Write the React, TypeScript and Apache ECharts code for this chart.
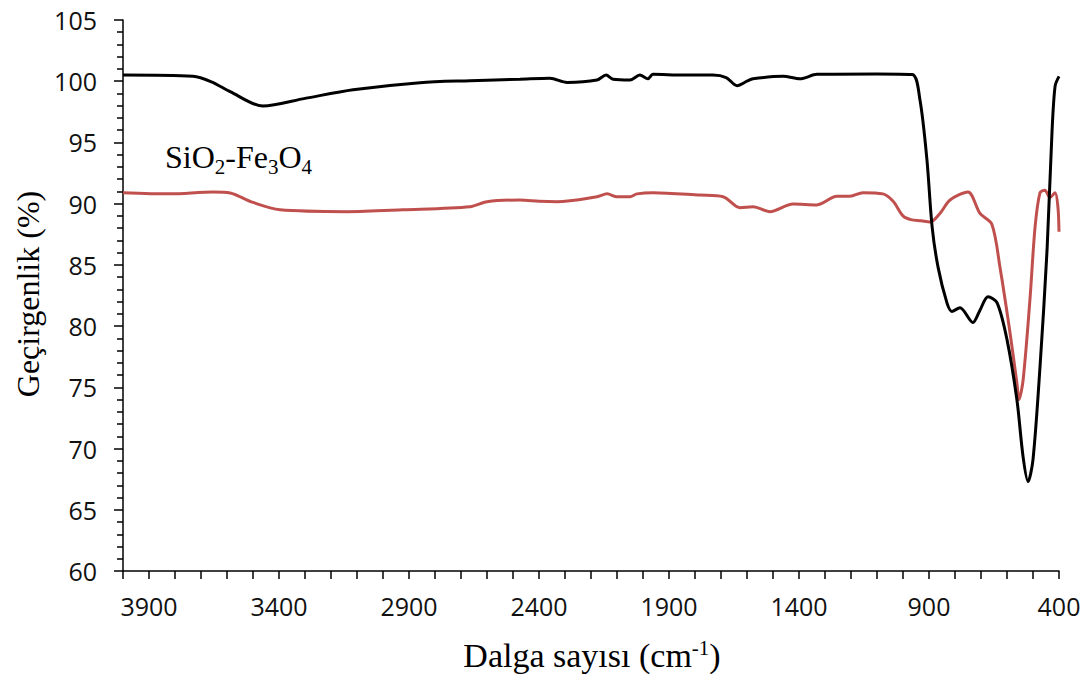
import React, { useEffect, useRef } from "react";
import * as echarts from "echarts";

const blackWave = [4000, 3731, 3660, 3588, 3462, 3300, 3115, 2858, 2665, 2473, 2358, 2292, 2177, 2142, 2115, 2050, 2012, 1981, 1962, 1846, 1731, 1680, 1638, 1600, 1577, 1461, 1396, 1331, 1100, 965, 935, 908, 888, 865, 831, 812, 781, 731, 704, 673, 638, 600, 562, 538, 519, 500, 473, 446, 427, 415, 400];
const blackT = [100.5, 100.4, 99.95, 99.15, 97.98, 98.6, 99.3, 99.88, 100.04, 100.16, 100.24, 99.9, 100.1, 100.5, 100.16, 100.1, 100.5, 100.2, 100.56, 100.5, 100.5, 100.3, 99.64, 100.0, 100.2, 100.4, 100.2, 100.56, 100.6, 100.55, 98.5, 93.6, 88.1, 84.8, 81.9, 81.2, 81.5, 80.3, 81.3, 82.4, 81.9, 78.9, 74.0, 69.3, 67.3, 69.1, 76.7, 86.2, 95.8, 99.6, 100.4];

const redWave = [4000, 3819, 3654, 3588, 3500, 3396, 3138, 2923, 2665, 2600, 2473, 2400, 2331, 2177, 2138, 2100, 2050, 2023, 1962, 1781, 1692, 1627, 1577, 1512, 1423, 1331, 1254, 1204, 1154, 1077, 1038, 1000, 970, 930, 896, 858, 819, 750, 704, 658, 627, 588, 562, 554, 538, 512, 492, 473, 454, 435, 415, 404, 400];
const redT = [90.9, 90.8, 90.95, 90.87, 90.1, 89.5, 89.35, 89.5, 89.75, 90.16, 90.3, 90.2, 90.16, 90.57, 90.8, 90.57, 90.57, 90.8, 90.9, 90.7, 90.57, 89.67, 89.75, 89.35, 89.97, 89.9, 90.6, 90.6, 90.9, 90.8, 90.2, 89.0, 88.7, 88.6, 88.5, 89.2, 90.3, 90.95, 89.2, 88.3, 84.8, 79.4, 75.35, 74.0, 75.6, 82.1, 88.1, 90.9, 91.1, 90.5, 90.9, 89.7, 87.7];

const xLabelValues = [3900, 3400, 2900, 2400, 1900, 1400, 900, 400];
const sampleLabel = "SiO{s|2}-Fe{s|3}O{s|4}";
const xTitle = "Dalga sayısı (cm{sup|-1})";
const yTitle = "Geçirgenlik (%)";

export default function App() {
  const ref = useRef<HTMLDivElement>(null);
  useEffect(() => {
    if (!ref.current) return;
    const chart = echarts.init(ref.current, null, { renderer: "svg" });
    const black = blackWave.map((w, i) => [w, blackT[i]]);
    const red = redWave.map((w, i) => [w, redT[i]]);
    const labelFont = '"Open Sans", sans-serif';
    const serif = '"Liberation Serif", "Times New Roman", serif';
    chart.setOption({
      animation: false,
      backgroundColor: "#fff",
      grid: { left: 123, right: 30, top: 20, bottom: 103, containLabel: false, outerBoundsMode: "none" },
      xAxis: {
        type: "value",
        inverse: true,
        min: 400,
        max: 4000,
        interval: 100,
        axisLine: { show: true, lineStyle: { color: "#000", width: 1.5 } },
        axisTick: { show: true, inside: false, length: 8, lineStyle: { color: "#000", width: 1.5 } },
        splitLine: { show: false },
        axisLabel: {
          margin: 22,
          fontSize: 25,
          fontFamily: labelFont,
          color: "#111",
          formatter: (v: number) => (xLabelValues.includes(v) ? String(v) : ""),
        },
      },
      yAxis: {
        type: "value",
        min: 60,
        max: 105,
        interval: 5,
        axisLine: { show: true, lineStyle: { color: "#000", width: 1.5 } },
        axisTick: { show: true, inside: false, length: 9, lineStyle: { color: "#000", width: 1.5 } },
        minorTick: { show: true, splitNumber: 5, length: 6, lineStyle: { color: "#000", width: 1.5 } },
        splitLine: { show: false },
        axisLabel: { margin: 26, fontSize: 25, fontFamily: labelFont, color: "#111" },
      },
      graphic: [
        {
          type: "text",
          left: 165,
          top: 137,
          style: {
            text: sampleLabel,
            font: `32px ${serif}`,
            fill: "#000",
            lineHeight: 40,
            rich: {
              s: { fontSize: 21, fontFamily: serif, fill: "#000", lineHeight: 21, verticalAlign: "bottom" },
            },
          },
        },
        {
          type: "text",
          x: 592,
          y: 655,
          style: {
            text: xTitle,
            font: `34px ${serif}`,
            fill: "#000",
            textAlign: "center",
            textVerticalAlign: "middle",
            lineHeight: 36,
            rich: {
              sup: { fontSize: 21, fontFamily: serif, fill: "#000", verticalAlign: "top", lineHeight: 36, padding: [0, 0, 12, 0] },
            },
          },
        },
        {
          type: "text",
          x: 28,
          y: 294,
          rotation: Math.PI / 2,
          style: {
            text: yTitle,
            font: `32px ${serif}`,
            fill: "#000",
            textAlign: "center",
            textVerticalAlign: "middle",
          },
        },
      ],
      series: [
        {
          type: "line",
          data: black,
          showSymbol: false,
          smooth: 0.3,
          lineStyle: { color: "#000", width: 3 },
          z: 3,
        },
        {
          type: "line",
          data: red,
          showSymbol: false,
          smooth: 0.3,
          lineStyle: { color: "#C0504D", width: 3 },
          z: 2,
        },
      ],
    });
    return () => chart.dispose();
  }, []);
  return <div ref={ref} style={{ width: 1089, height: 674, position: "absolute", left: 0, top: 0 }} />;
}
